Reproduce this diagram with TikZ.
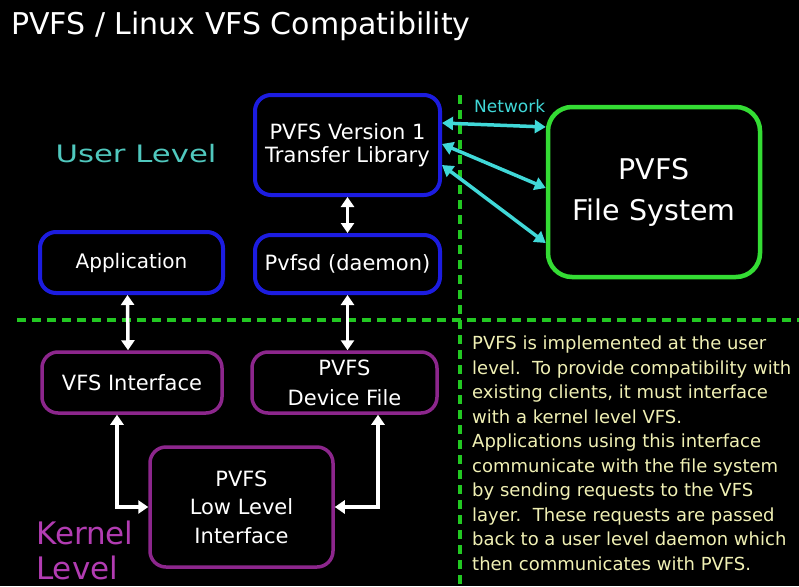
\documentclass[tikz,border=0pt]{standalone}
\usepackage{fontspec}
\usepackage{graphicx}
\setmainfont{DejaVu Sans}
\usetikzlibrary{arrows.meta}
\definecolor{ublue}{HTML}{1C1CE0}
\definecolor{kpurple}{HTML}{8C268C}
\definecolor{kmag}{HTML}{B23CB2}
\definecolor{fsgreen}{HTML}{34DC34}
\definecolor{dgreen}{HTML}{22C822}
\definecolor{teal}{HTML}{50C8BE}
\definecolor{netcyan}{HTML}{40D8D8}
\definecolor{bodyyel}{HTML}{F0F0B4}
\newcommand\fsz[2]{\fontsize{#1}{#2}\selectfont}
\tikzset{
  userbox/.style={draw=ublue, line width=4pt, rounded corners=16pt, text=white, align=center, inner sep=0pt},
  kernbox/.style={draw=kpurple, line width=3.5pt, rounded corners=16pt, text=white, align=center, inner sep=0pt},
  fsbox/.style={draw=fsgreen, line width=4.5pt, rounded corners=24pt, text=white, align=center, inner sep=0pt},
  divider/.style={dgreen, line width=4pt, dash pattern=on 9pt off 6pt},
  dbl/.style={white, line width=3.5pt, {Triangle[width=13pt,length=10pt]}-{Triangle[width=13pt,length=10pt]}},
  net/.style={netcyan, line width=3.5pt, {Triangle[width=13pt,length=11pt]}-{Triangle[width=13pt,length=11pt]}},
}
\begin{document}
\begin{tikzpicture}[x=1pt,y=-1pt]
\fill[black] (0,0) rectangle (799,586);
\useasboundingbox (0,0) rectangle (799,586);

% dividers
\draw[divider] (17,320) -- (799,320);
\draw[divider] (460,95) -- (460,586);

% title and labels
\node[anchor=base west, inner sep=0pt, text=white, font=\fsz{30}{34}] (title) at (11,35) {PVFS / Linux VFS Compatibility};
\node[anchor=base, inner sep=0pt, text=teal] (ulevel) at (136,162) {\scalebox{1.28}[1]{\fsz{24}{28}User Level}};
\node[anchor=base west, inner sep=0pt, text=netcyan, font=\fsz{17}{20}] (network) at (474,112) {Network};
\node[anchor=base west, inner sep=0pt, text=kmag, font=\fsz{31}{38}] (kernel) at (36,544) {Kernel};
\node[anchor=base west, inner sep=0pt, text=kmag, font=\fsz{31}{38}] (klevel) at (36,579) {Level};

% user level boxes
\node[userbox, minimum width=185pt, minimum height=100pt, font=\fsz{21}{23}] (tl) at (347.5,145) {PVFS Version 1\\Transfer Library};
\node[userbox, minimum width=185pt, minimum height=58pt, font=\fsz{21}{24}] (pd) at (347.5,264) {Pvfsd (daemon)};
\node[userbox, minimum width=183pt, minimum height=61pt, font=\fsz{20}{24}] (app) at (131.5,262.5) {Application};

% file system
\node[fsbox, minimum width=212pt, minimum height=170pt, font=\fsz{28.5}{41}] (fs) at (654,192) {PVFS\\File System};

% kernel boxes
\node[kernbox, minimum width=180pt, minimum height=61pt, font=\fsz{21}{24}] (vfs) at (132,382.5) {VFS Interface};
\node[kernbox, minimum width=185pt, minimum height=61pt, font=\fsz{21}{30}] (dev) at (344.5,382.5) {PVFS\\Device File};
\node[kernbox, minimum width=183pt, minimum height=120pt, font=\fsz{21}{28.5}] (ll) at (241.5,507) {PVFS\\Low Level\\Interface};

% body text
\node[anchor=north west, inner sep=0pt, text=bodyyel, align=left, font=\fsz{18}{24.5}] (body) at (472,336) {PVFS is implemented at the user\\level.\ \ To provide compatibility with\\existing clients, it must interface\\with a kernel level VFS.\\Applications using this interface\\communicate with the file system\\by sending requests to the VFS\\layer.\ \ These requests are passed\\back to a user level daemon which\\then communicates with PVFS.};

% connectors
\draw[dbl] (tl.south) -- (pd.north);
\draw[dbl] ([xshift=-4pt]app.south) -- ([xshift=-4pt]vfs.north);
\draw[dbl] (pd.south) -- (pd.south |- dev.north);
\draw[dbl] ([xshift=-15pt]vfs.south) |- (ll.west);
\draw[dbl] ([xshift=33.5pt]dev.south) |- (ll.east);

\draw[net] ([yshift=22pt]tl.east) -- ([yshift=65pt]fs.west);
\draw[net] ([yshift=1pt]tl.east) -- ([yshift=4pt]fs.west);
\draw[net] ([yshift=-20pt]tl.east) -- ([yshift=-51pt]fs.west);
\end{tikzpicture}
\end{document}
